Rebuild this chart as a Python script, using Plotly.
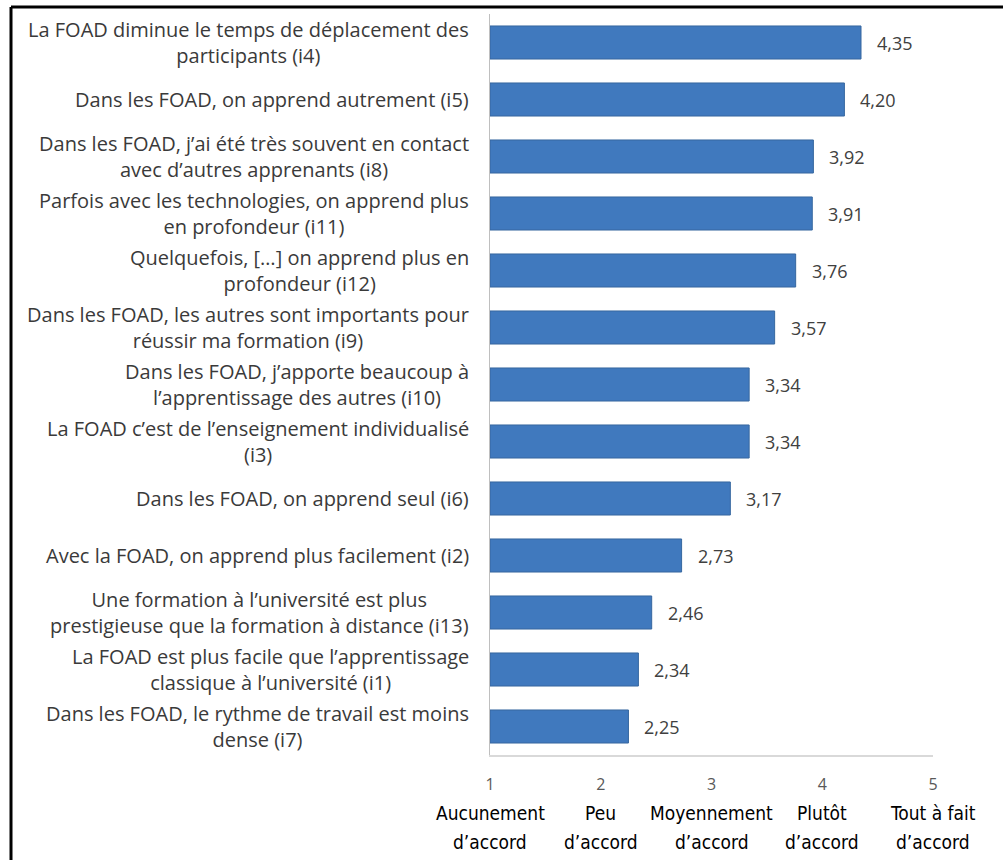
import plotly.graph_objects as go

# Items (top to bottom) and their mean agreement scores
items = [
    "La FOAD diminue le temps de déplacement des<br>participants (i4)",
    "Dans les FOAD, on apprend autrement (i5)",
    "Dans les FOAD, j’ai été très souvent en contact<br>avec d’autres apprenants (i8)",
    "Parfois avec les technologies, on apprend plus<br>en profondeur (i11)",
    "Quelquefois, […] on apprend plus en<br>profondeur (i12)",
    "Dans les FOAD, les autres sont importants pour<br>réussir ma formation (i9)",
    "Dans les FOAD, j’apporte beaucoup à<br>l’apprentissage des autres (i10)",
    "La FOAD c’est de l’enseignement individualisé<br>(i3)",
    "Dans les FOAD, on apprend seul (i6)",
    "Avec la FOAD, on apprend plus facilement (i2)",
    "Une formation à l’université est plus<br>prestigieuse que la formation à distance (i13)",
    "La FOAD est plus facile que l’apprentissage<br>classique à l’université (i1)",
    "Dans les FOAD, le rythme de travail est moins<br>dense (i7)",
]
scores = [4.35, 4.20, 3.92, 3.91, 3.76, 3.57, 3.34, 3.34, 3.17, 2.73, 2.46, 2.34, 2.25]

# Likert scale
scale_ticks = [1, 2, 3, 4, 5]
scale_labels = [
    "Aucunement<br>d’accord",
    "Peu<br>d’accord",
    "Moyennement<br>d’accord",
    "Plutôt<br>d’accord",
    "Tout à fait<br>d’accord",
]

ids = [f"item{k}" for k in range(len(items))]

fig = go.Figure()
fig.add_trace(go.Bar(
    x=[s - 1 for s in scores],
    base=1,
    y=ids,
    orientation="h",
    width=0.58,
    marker=dict(color="#4079be", line=dict(color="#36679f", width=1)),
    hoverinfo="skip",
))

annotations = []
# item labels, centred text block right-aligned against the axis
for yid, label in zip(ids, items):
    annotations.append(dict(
        x=0, xref="paper", xshift=-19, xanchor="right",
        y=yid, yref="y", yanchor="middle",
        text=label, align="center", showarrow=False,
        font=dict(family="Open Sans", size=20, color="#3a3a3a"),
    ))
# value labels
for yid, s in zip(ids, scores):
    annotations.append(dict(
        x=s, xref="x", xanchor="left", xshift=14,
        y=yid, yref="y", yanchor="middle",
        text=f"{s:.2f}".replace(".", ","), showarrow=False,
        font=dict(family="Open Sans", size=18, color="#404040"),
    ))
# scale labels under the numeric ticks, one annotation per line
for t, lab in zip(scale_ticks, scale_labels):
    for k, line in enumerate(lab.split("<br>")):
        annotations.append(dict(
            x=t, xref="x", xanchor="center",
            y=0, yref="paper", yanchor="middle", yshift=-58 - 29 * k,
            text=line, showarrow=False,
            font=dict(family="DejaVu Sans Condensed, Liberation Sans Narrow, sans-serif",
                      size=19, color="#000000"),
        ))

# frame lines (top and left)
shapes = [
    dict(type="line", xref="paper", yref="paper",
         x0=(11 - 490) / 443, x1=1.2, y0=(755 - 7) / 741, y1=(755 - 7) / 741,
         line=dict(color="black", width=3)),
    dict(type="line", xref="paper", yref="paper",
         x0=(11 - 490) / 443, x1=(11 - 490) / 443, y0=(755 - 7) / 741, y1=-0.3,
         line=dict(color="black", width=3)),
]

fig.update_layout(
    width=1003, height=860,
    margin=dict(l=490, r=70, t=14, b=105),
    paper_bgcolor="white", plot_bgcolor="white",
    showlegend=False,
    bargap=0.42,
    annotations=annotations,
    shapes=shapes,
    xaxis=dict(
        range=[1, 5], tickvals=scale_ticks, ticktext=[str(t) for t in scale_ticks],
        showgrid=False, zeroline=False, showline=True, linecolor="#d9d9d9", linewidth=2,
        ticks="", ticklabelstandoff=14,
        tickfont=dict(family="Open Sans", size=16, color="#595959"),
    ),
    yaxis=dict(
        categoryorder="array", categoryarray=ids, autorange="reversed",
        showticklabels=False, showgrid=False, zeroline=False,
        showline=True, linecolor="#bfbfbf", linewidth=1, ticks="",
    ),
)

fig.write_html("out.html")
